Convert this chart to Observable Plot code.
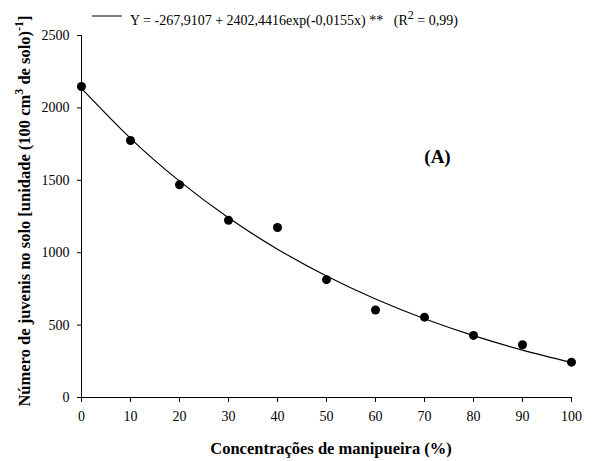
<!DOCTYPE html>
<html><head><meta charset="utf-8">
<script src="https://cdn.jsdelivr.net/npm/d3@7"></script>
<script src="https://cdn.jsdelivr.net/npm/@observablehq/plot@0.6"></script>
<style>body{margin:0;background:#fff;} svg{display:block;} svg text{font-family:"Liberation Serif","Times New Roman",Times,serif;}</style>
</head><body><div id="chart"></div>
<script>
const concentrations = [0, 10, 20, 30, 40, 50, 60, 70, 80, 90, 100];
const juveniles = [2148, 1775, 1469, 1224, 1174, 814, 604, 555, 429, 364, 244];
const fitX = [0, 10, 20, 30, 40, 50, 60, 70, 80, 90, 100];
const fitY = [2134.5, 1789.6, 1494.2, 1241.2, 1024.5, 838.9, 680.0, 543.9, 427.3, 327.5, 242.0];
const xTicks = [0, 10, 20, 30, 40, 50, 60, 70, 80, 90, 100];
const yTicks = [0, 500, 1000, 1500, 2000, 2500];
const equationText = "Y = -267,9107 + 2402,4416exp(-0,0155x) **";
const r2Text = ["(R", "2", " = 0,99)"];
const panelLabel = "(A)";
const xTitle = "Concentrações de manipueira (%)";
const yTitleParts = ["Número de juvenis no solo [unidade (100 cm", "3", " de solo)", "-1", "]"];

const points = concentrations.map((c, i) => ({x: c, y: juveniles[i]}));
const fit = fitX.map((c, i) => ({x: c, y: fitY[i]}));

const W = 594, H = 461;
const mL = 81, mR = 23, mT = 35, mB = 64;
const ff = '"Liberation Serif", "Times New Roman", Times, serif';

const chart = Plot.plot({
  width: W, height: H,
  marginLeft: mL, marginRight: mR, marginTop: mT, marginBottom: mB,
  style: {fontFamily: ff, fontSize: "14px", color: "#000", background: "#fff"},
  x: {domain: [0, 100]},
  y: {domain: [0, 2500]},
  marks: [
    Plot.axisX({ticks: xTicks, tickSize: 5, tickPadding: 9, label: null, fontSize: 14, tickFormat: d3.format("d")}),
    Plot.axisY({ticks: yTicks, tickSize: 4, tickPadding: 8, label: null, fontSize: 14, tickFormat: d3.format("d")}),
    Plot.ruleX([0], {stroke: "#000", strokeWidth: 1}),
    Plot.ruleY([0], {stroke: "#000", strokeWidth: 1}),
    Plot.line(fit, {x: "x", y: "y", curve: "natural", stroke: "#000", strokeWidth: 1.2}),
    Plot.dot(points, {x: "x", y: "y", r: 4.5, fill: "#000", stroke: "none"}),
    Plot.text([panelLabel], {frameAnchor: "top-left", dx: 356, dy: 114, text: d => d, fontSize: 19, fontWeight: "bold", textAnchor: "middle"})
  ]
});
document.getElementById("chart").appendChild(chart);

const svg = d3.select(chart);
// legend
svg.append("line").attr("x1", 92).attr("x2", 122).attr("y1", 16).attr("y2", 16).attr("stroke", "#000").attr("stroke-width", 1);
const leg = svg.append("text").attr("x", 130).attr("y", 25).attr("text-anchor", "start")
  .style("font-size", "14px").attr("fill", "#000");
leg.append("tspan").text(equationText + "\u00a0\u00a0\u00a0" + r2Text[0]);
leg.append("tspan").attr("dy", -6).style("font-size", "12px").text(r2Text[1]);
leg.append("tspan").attr("dy", 6).text(r2Text[2]);
// x title
svg.append("text").attr("x", 331).attr("y", 454).attr("text-anchor", "middle")
  .style("font-size", "16.5px").attr("font-weight", "bold").attr("fill", "#000").text(xTitle);
// y title
const yt = svg.append("text").attr("transform", "translate(30,211) rotate(-90)").attr("text-anchor", "middle")
  .style("font-size", "16.5px").attr("font-weight", "bold").attr("fill", "#000");
yt.append("tspan").text(yTitleParts[0]);
yt.append("tspan").attr("dy", -7).style("font-size", "12px").text(yTitleParts[1]);
yt.append("tspan").attr("dy", 7).text(yTitleParts[2]);
yt.append("tspan").attr("dy", -7).style("font-size", "12px").text(yTitleParts[3]);
yt.append("tspan").attr("dy", 7).text(yTitleParts[4]);
</script>
</body></html>
